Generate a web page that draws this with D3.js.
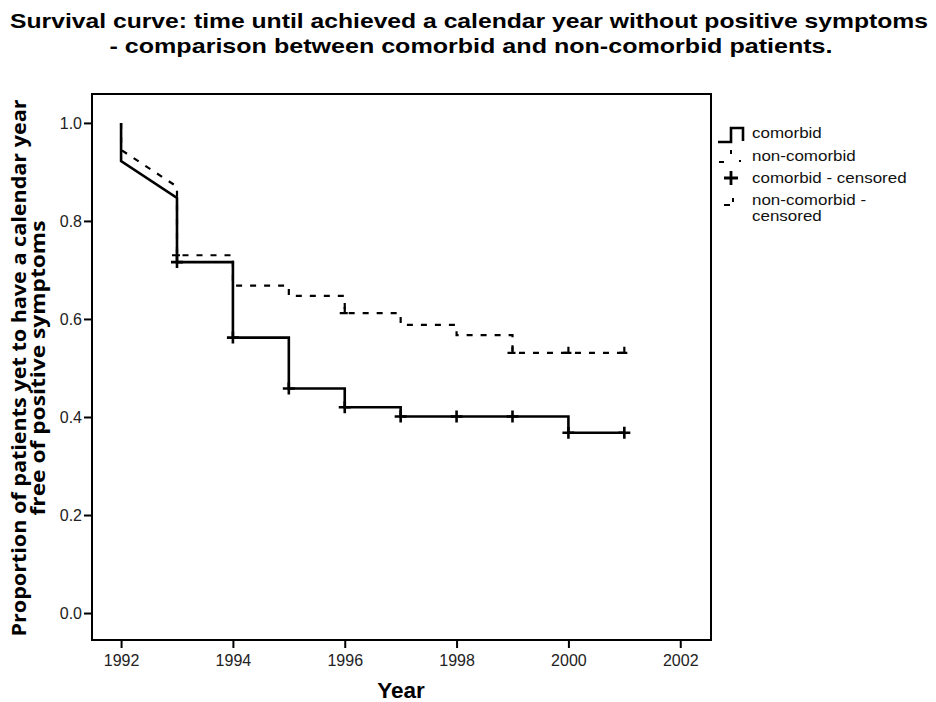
<!DOCTYPE html>
<html lang="en">
  <head>
    <meta charset="UTF-8" />
    <title>Survival curve</title>
    <script src="https://d3js.org/d3.v7.min.js"></script>
    <style>
      body {
        margin: 0;
        background: white;
      }
      .title {
        font-family: "Liberation Sans", Arial, sans-serif;
        font-weight: bold;
        font-size: 21px;
      }
      .legend text {
        font-family: "Liberation Sans", Arial, sans-serif;
        font-size: 14.5px;
        fill: #111;
      }
    </style>
  </head>
  <body>
    <div id="container"></div>
    <script>
      // comorbid curve vertices (year, proportion)
      const comorbidYears = [1992, 1992, 1993, 1993, 1994, 1994, 1995, 1995, 1996, 1996, 1997, 1997, 2000, 2000, 2001];
      const comorbidValues = [1.0, 0.922, 0.847, 0.716, 0.716, 0.562, 0.562, 0.458, 0.458, 0.42, 0.42, 0.401, 0.401, 0.368, 0.368];
      const comorbidCensorYears = [1993, 1994, 1995, 1996, 1997, 1998, 1999, 2000, 2001];
      const comorbidCensorValues = [0.716, 0.562, 0.458, 0.42, 0.401, 0.401, 0.401, 0.368, 0.368];

      // non-comorbid curve vertices
      const nonYears = [1992, 1992, 1993, 1993, 1994, 1994, 1995, 1995, 1996, 1996, 1997, 1997, 1998, 1998, 1999, 1999, 2001];
      const nonValues = [1.0, 0.945, 0.87, 0.73, 0.73, 0.668, 0.668, 0.647, 0.647, 0.612, 0.612, 0.588, 0.588, 0.567, 0.567, 0.531, 0.531];
      const nonCensorYears = [1993, 1996, 1999, 2000, 2001];
      const nonCensorValues = [0.73, 0.612, 0.531, 0.531, 0.531];

      const xTicks = [1992, 1994, 1996, 1998, 2000, 2002];
      const yTicks = [0.0, 0.2, 0.4, 0.6, 0.8, 1.0];
      const legendLabels = ["comorbid", "non-comorbid", "comorbid - censored", "non-comorbid -"];

      const width = 936;
      const height = 702;
      const svg = d3
        .select("#container")
        .append("svg")
        .attr("width", width)
        .attr("height", height);

      svg.append("rect").attr("width", width).attr("height", height).attr("fill", "white");

      // the original picture is a bit wider than tall, stretch text sideways
      function stretch(sel, k) {
        sel.each(function () {
          const w = this.getComputedTextLength();
          d3.select(this).attr("textLength", w * k).attr("lengthAdjust", "spacingAndGlyphs");
        });
      }

      const x = d3.scaleLinear().domain([1991.48, 2002.55]).range([92, 711]);
      const y = d3.scaleLinear().domain([-0.055, 1.059]).range([640, 94]);

      // title
      svg.append("text").attr("class", "title").attr("x", 469).attr("y", 28)
        .attr("text-anchor", "middle")
        .attr("textLength", 918).attr("lengthAdjust", "spacingAndGlyphs")
        .text("Survival curve: time until achieved a calendar year without positive symptoms");
      svg.append("text").attr("class", "title").attr("x", 471).attr("y", 53)
        .attr("text-anchor", "middle")
        .attr("textLength", 723).attr("lengthAdjust", "spacingAndGlyphs")
        .text("- comparison between comorbid and non-comorbid patients.");

      // frame
      svg.append("rect")
        .attr("x", x.range()[0]).attr("y", y.range()[1])
        .attr("width", x.range()[1] - x.range()[0])
        .attr("height", y.range()[0] - y.range()[1])
        .attr("fill", "none").attr("stroke", "black").attr("stroke-width", 2);

      const xAxis = svg.append("g")
        .attr("transform", "translate(0," + y.range()[0] + ")")
        .call(d3.axisBottom(x).tickValues(xTicks).tickFormat(d3.format("d")).tickSize(8).tickPadding(7));
      const yAxis = svg.append("g")
        .attr("transform", "translate(" + x.range()[0] + ",0)")
        .call(d3.axisLeft(y).tickValues(yTicks).tickFormat(d3.format(".1f")).tickSize(8).tickPadding(2));
      [xAxis, yAxis].forEach(function (a) {
        a.attr("font-size", null).attr("font-family", null);
        a.select(".domain").remove();
        a.selectAll(".tick line").attr("stroke", "black").attr("stroke-width", 2);
        a.selectAll(".tick text")
          .style("font-family", "'Liberation Sans', Arial, sans-serif")
          .style("font-size", "16px")
          .attr("fill", "#222");
      });

      // axis titles
      svg.append("text").attr("x", 401).attr("y", 698).attr("text-anchor", "middle")
        .style("font-family", "'Liberation Sans', Arial, sans-serif")
        .style("font-weight", "bold").style("font-size", "22.5px").text("Year");
      const yTitle = svg.append("text")
        .attr("transform", "translate(0,368) rotate(-90)")
        .attr("text-anchor", "middle")
        .style("font-family", "'Open Sans', sans-serif")
        .style("font-weight", "bold").style("font-size", "20px");
      yTitle.append("tspan").attr("x", 0).attr("y", 26)
        .attr("textLength", 537).attr("lengthAdjust", "spacingAndGlyphs")
        .text("Proportion of patients yet to have a calendar year");
      yTitle.append("tspan").attr("x", 0).attr("y", 45)
        .attr("textLength", 295).attr("lengthAdjust", "spacingAndGlyphs")
        .text("free of positive symptoms");

      const line = d3.line().x(function (d) { return x(d[0]); }).y(function (d) { return y(d[1]); });

      const comorbid = comorbidYears.map(function (d, i) { return [d, comorbidValues[i]]; });
      const non = nonYears.map(function (d, i) { return [d, nonValues[i]]; });

      svg.append("path").datum(non).attr("d", line)
        .attr("fill", "none").attr("stroke", "black").attr("stroke-width", 2.2)
        .attr("stroke-dasharray", "6,8");
      svg.append("path").datum(comorbid).attr("d", line)
        .attr("fill", "none").attr("stroke", "black").attr("stroke-width", 2.6);

      // censored marks
      svg.selectAll(".cplus").data(comorbidCensorYears).enter()
        .append("path").attr("class", "cplus")
        .attr("d", function (d, i) {
          const cx = x(d), cy = y(comorbidCensorValues[i]);
          return "M" + (cx - 6) + "," + cy + "H" + (cx + 6) + "M" + cx + "," + (cy - 6) + "V" + (cy + 6);
        })
        .attr("stroke", "black").attr("stroke-width", 2.6);
      svg.selectAll(".nmark").data(nonCensorYears).enter()
        .append("path").attr("class", "nmark")
        .attr("d", function (d, i) {
          const cx = x(d), cy = y(nonCensorValues[i]);
          return "M" + (cx - 5) + "," + cy + "H" + (cx + 3) + "M" + cx + "," + (cy - 6) + "V" + cy;
        })
        .attr("fill", "none").attr("stroke", "black").attr("stroke-width", 2.2);

      // legend
      const legend = svg.append("g").attr("class", "legend");
      const ly = [133, 156, 178, 200];
      legendLabels.forEach(function (t, i) {
        legend.append("text").attr("x", 752).attr("y", ly[i] + 5).text(t);
      });
      legend.append("text").attr("x", 752).attr("y", 221).text("censored");
      stretch(legend.selectAll("text"), 1.17);
      legend.append("path").attr("d", "M718,142H731V128H743V141")
        .attr("fill", "none").attr("stroke", "black").attr("stroke-width", 2.6);
      legend.append("path").attr("d", "M719,162H724M731,150V154M740,160V162")
        .attr("fill", "none").attr("stroke", "black").attr("stroke-width", 2);
      legend.append("path").attr("d", "M724,178H738M731,171V185")
        .attr("fill", "none").attr("stroke", "black").attr("stroke-width", 2.8);
      legend.append("path").attr("d", "M724,205H730M733,198V202")
        .attr("fill", "none").attr("stroke", "black").attr("stroke-width", 2);
    </script>
  </body>
</html>
